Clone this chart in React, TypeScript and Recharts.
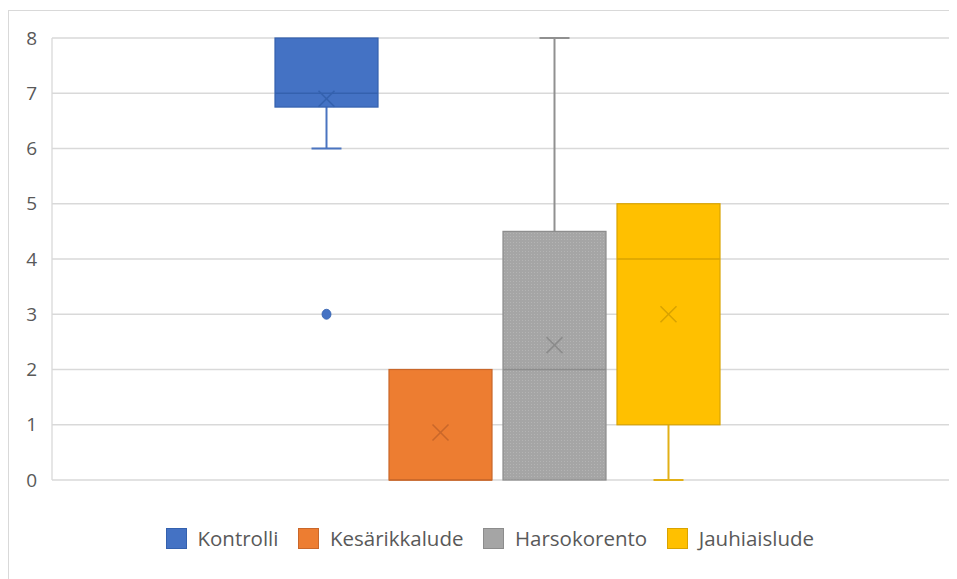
import React from "react";
import { ComposedChart, Bar, XAxis, YAxis, CartesianGrid } from "recharts";

const seriesNames = ["Kontrolli", "Kesärikkalude", "Harsokorento", "Jauhiaislude"];
const minVals = [6, 0, 0, 0];
const q1Vals = [6.75, 0, 0, 1];
const medianVals = [7, 0, 2, 4];
const q3Vals = [8, 2, 4.5, 5];
const maxVals = [8, 2, 8, 5];
const meanVals = [6.9, 0.86, 2.44, 3];
const outlierVals: number[][] = [[3], [], [], []];
const yTicks = [0, 1, 2, 3, 4, 5, 6, 7, 8];

const fills = ["#4472C4", "#ED7D31", "#A5A5A5", "#FFC000"];
const strokes = ["#3461AE", "#C9672A", "#8C8C8C", "#D9A300"];
const whiskerColors = ["#4A74C0", "#ED7D31", "#909090", "#E2B016"];

const data = [
  seriesNames.reduce((row: any, _n, i) => {
    row["s" + i] = [q1Vals[i], q3Vals[i]];
    return row;
  }, { cat: "" } as any),
];

const FONT = "'Open Sans', 'Liberation Sans', sans-serif";

const makeShape = (i: number) => (props: any) => {
  const { x, y, width, height } = props;
  const top = Math.min(y, y + height);
  const h = Math.abs(height);
  const q1 = q1Vals[i];
  const q3 = q3Vals[i];
  const ppu = h / (q3 - q1);
  const py = (v: number) => top + (q3 - v) * ppu;
  const cx = x + width / 2;
  const cap = 15;
  const m = 8;
  const my = py(meanVals[i]);
  const fillId = i === 2 ? "url(#grayPat)" : fills[i];
  return (
    <g>
      {maxVals[i] > q3 && (
        <g stroke={whiskerColors[i]} strokeWidth={2}>
          <line x1={cx} x2={cx} y1={py(q3)} y2={py(maxVals[i])} />
          <line x1={cx - cap} x2={cx + cap} y1={py(maxVals[i])} y2={py(maxVals[i])} />
        </g>
      )}
      {minVals[i] < q1 && (
        <g stroke={whiskerColors[i]} strokeWidth={2}>
          <line x1={cx} x2={cx} y1={py(q1)} y2={py(minVals[i])} />
          <line x1={cx - cap} x2={cx + cap} y1={py(minVals[i])} y2={py(minVals[i])} />
        </g>
      )}
      <rect x={x} y={top} width={width} height={h} fill={fillId} stroke={strokes[i]} strokeWidth={1.2} />
      <line x1={x} x2={x + width} y1={py(medianVals[i])} y2={py(medianVals[i])} stroke={strokes[i]} strokeWidth={1.5} />
      <g stroke={strokes[i]} strokeWidth={1.6}>
        <line x1={cx - m} x2={cx + m} y1={my - m} y2={my + m} />
        <line x1={cx - m} x2={cx + m} y1={my + m} y2={my - m} />
      </g>
      {outlierVals[i].map((v, k) => (
        <ellipse key={k} cx={cx} cy={py(v)} rx={4.5} ry={5} fill={fills[i]} stroke={strokes[i]} strokeWidth={0.8} />
      ))}
    </g>
  );
};

const LegendBlock = () => (
  <div style={{ position: "absolute", left: 7, top: 514, width: 948, display: "flex", justifyContent: "center", alignItems: "center", fontFamily: FONT, fontSize: 20.5, color: "#595959", lineHeight: "26px" }}>
    {seriesNames.map((n, i) => (
      <div key={n} style={{ display: "flex", alignItems: "center", marginLeft: i === 0 ? 0 : 20 }}>
        <div style={{ width: 21, height: 21, background: fills[i], border: `1px solid ${strokes[i]}`, boxSizing: "border-box", marginRight: 10.5 }} />
        <span>{n}</span>
      </div>
    ))}
  </div>
);

export default function App() {
  return (
    <div style={{ position: "relative", width: 949, height: 571, marginTop: 2, borderTop: "1px solid #d9d9d9", borderLeft: "1px solid #d9d9d9", boxSizing: "border-box", background: "#fff" }}>
      <ComposedChart
        width={948}
        height={569}
        data={data}
        margin={{ top: 27, right: 7, left: 0, bottom: 100 }}
        barSize={103}
        barGap={11}
      >
        <defs>
          <pattern id="grayPat" width="3" height="3" patternUnits="userSpaceOnUse">
            <rect width="3" height="3" fill="#A5A5A5" />
            <rect width="1" height="1" fill="#B4B4B4" />
          </pattern>
        </defs>
        <CartesianGrid vertical={false} stroke="#d9d9d9" strokeWidth={1.3} />
        <XAxis dataKey="cat" hide padding={{ left: 0, right: 8 }} />
        <YAxis
          domain={[0, 8]}
          ticks={yTicks}
          width={43}
          tickLine={false}
          tickSize={0}
          tickMargin={15}
          axisLine={{ stroke: "#d9d9d9", strokeWidth: 1.3 }}
          tick={{ fill: "#595959", fontSize: 19, fontFamily: FONT }}
          interval={0}
        />
        {seriesNames.map((n, i) => (
          <Bar key={n} dataKey={"s" + i} name={n} fill={fills[i]} isAnimationActive={false} shape={makeShape(i)} />
        ))}
      </ComposedChart>
      <LegendBlock />
    </div>
  );
}
